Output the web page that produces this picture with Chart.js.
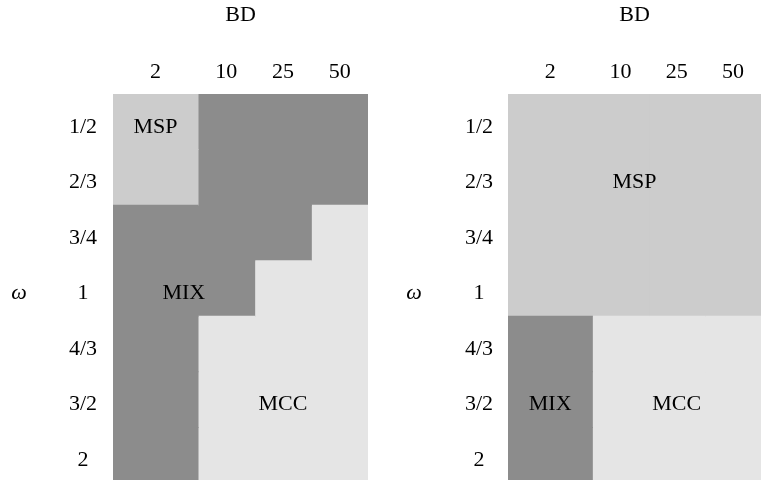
<!DOCTYPE html>
<html>
<head>
<meta charset="utf-8">
<script src="https://cdn.jsdelivr.net/npm/chart.js@4.4.1/dist/chart.umd.min.js"></script>
<style>
  html, body { margin: 0; padding: 0; background: #ffffff; overflow: hidden; }
  #wrap { position: relative; width: 761px; height: 480px; overflow: hidden; background: #ffffff; }
  .panel { position: absolute; top: 0; }
</style>
</head>
<body>
<div id="wrap">
  <div class="panel" style="left:0px"><canvas id="leftPanel" width="380" height="490"></canvas></div>
  <div class="panel" style="left:380px"><canvas id="rightPanel" width="381" height="490"></canvas></div>
</div>
<script>
// Breakdown (BD) columns and their relative widths
const bdLabels = ['2', '10', '25', '50'];
const bdSpan = [1.5, 1, 1, 1];

// Rows: omega values, top to bottom
const omegaLabels = ['1/2', '2/3', '3/4', '1', '4/3', '3/2', '2'];

// Winning regime in each cell (rows = omega, columns = BD)
const regimeLeft = [
  ['MSP', 'MIX', 'MIX', 'MIX'],
  ['MSP', 'MIX', 'MIX', 'MIX'],
  ['MIX', 'MIX', 'MIX', 'MCC'],
  ['MIX', 'MIX', 'MCC', 'MCC'],
  ['MIX', 'MCC', 'MCC', 'MCC'],
  ['MIX', 'MCC', 'MCC', 'MCC'],
  ['MIX', 'MCC', 'MCC', 'MCC']
];
const regimeRight = [
  ['MSP', 'MSP', 'MSP', 'MSP'],
  ['MSP', 'MSP', 'MSP', 'MSP'],
  ['MSP', 'MSP', 'MSP', 'MSP'],
  ['MSP', 'MSP', 'MSP', 'MSP'],
  ['MIX', 'MCC', 'MCC', 'MCC'],
  ['MIX', 'MCC', 'MCC', 'MCC'],
  ['MIX', 'MCC', 'MCC', 'MCC']
];

// Region names and the row each one is written in
const regionTagsLeft = [['MSP', '1/2'], ['MIX', '1'], ['MCC', '3/2']];
const regionTagsRight = [['MSP', '2/3'], ['MIX', '3/2'], ['MCC', '3/2']];

const regimeColors = { MSP: '#cccccc', MIX: '#8c8c8c', MCC: '#e5e5e5' };

const FONT = 'Liberation Serif';
const FS = 22;
const TEXT_DROP = 5;

// cumulative column edges along the x scale
const colEdges = bdSpan.reduce((acc, w) => { acc.push(acc[acc.length - 1] + w); return acc; }, [0]);
const colCenters = bdLabels.map((_, j) => (colEdges[j] + colEdges[j + 1]) / 2);

// writes region names and the omega axis title
const regionTextPlugin = {
  id: 'regionText',
  afterDatasetsDraw(chart, args, opts) {
    const ctx = chart.ctx;
    const xs = chart.scales.x, ys = chart.scales.y;
    ctx.save();
    ctx.fillStyle = '#000000';
    ctx.textAlign = 'center';
    ctx.textBaseline = 'middle';
    ctx.font = FS + 'px "' + FONT + '"';
    opts.tags.forEach(([name, rowLabel]) => {
      const r = omegaLabels.indexOf(rowLabel);
      const row = opts.regimes[r];
      const first = row.indexOf(name), last = row.lastIndexOf(name);
      const xMid = (colEdges[first] + colEdges[last + 1]) / 2;
      ctx.fillText(name, xs.getPixelForValue(xMid), ys.getPixelForValue(r) + TEXT_DROP);
    });
    ctx.font = 'italic ' + FS + 'px "' + FONT + '"';
    const midRow = omegaLabels.indexOf('1');
    ctx.fillText('\u03C9', chart.chartArea.left - 94, ys.getPixelForValue(midRow) + TEXT_DROP);
    ctx.restore();
  }
};

function makePanel(canvasId, regimes, tags, yWidth, yPad, rightPad) {
  const datasets = bdLabels.map((bd, j) => ({
    label: bd,
    data: omegaLabels.map(() => bdSpan[j]),
    backgroundColor: regimes.map(row => regimeColors[row[j]]),
    borderWidth: 0,
    inflateAmount: 0.5,
    barPercentage: 1,
    categoryPercentage: 1
  }));
  return new Chart(document.getElementById(canvasId), {
    type: 'bar',
    data: { labels: omegaLabels, datasets },
    plugins: [regionTextPlugin],
    options: {
      indexAxis: 'y',
      responsive: false,
      animation: false,
      devicePixelRatio: 1,
      layout: { padding: { left: 0, right: rightPad, top: 0, bottom: 7 } },
      plugins: {
        legend: { display: false },
        tooltip: { enabled: false },
        regionText: { regimes, tags }
      },
      scales: {
        x: {
          type: 'linear',
          position: 'top',
          stacked: true,
          min: 0,
          max: colEdges[colEdges.length - 1],
          grid: { display: false, drawTicks: false },
          border: { display: false },
          afterBuildTicks(scale) { scale.ticks = colCenters.map(v => ({ value: v })); },
          afterFit(scale) { scale.height = 94; scale.paddingLeft = 0; scale.paddingRight = 0; },
          ticks: {
            autoSkip: false,
            maxRotation: 0,
            padding: 9,
            color: '#000000',
            font: { family: FONT, size: FS },
            callback: (v, i) => bdLabels[i]
          },
          title: {
            display: true,
            text: 'BD',
            color: '#000000',
            font: { family: FONT, size: FS },
            padding: { top: 2, bottom: 0 }
          }
        },
        y: {
          type: 'category',
          stacked: true,
          grid: { display: false, drawTicks: false },
          border: { display: false },
          afterFit(scale) { scale.width = yWidth; scale.paddingTop = 0; scale.paddingBottom = 0; },
          ticks: {
            crossAlign: 'center',
            padding: yPad,
            labelOffset: TEXT_DROP,
            color: '#000000',
            font: { family: FONT, size: FS }
          }
        }
      }
    }
  });
}

makePanel('leftPanel', regimeLeft, regionTagsLeft, 113, 16, 12);
makePanel('rightPanel', regimeRight, regionTagsRight, 128, 15, 0);
</script>
</body>
</html>
